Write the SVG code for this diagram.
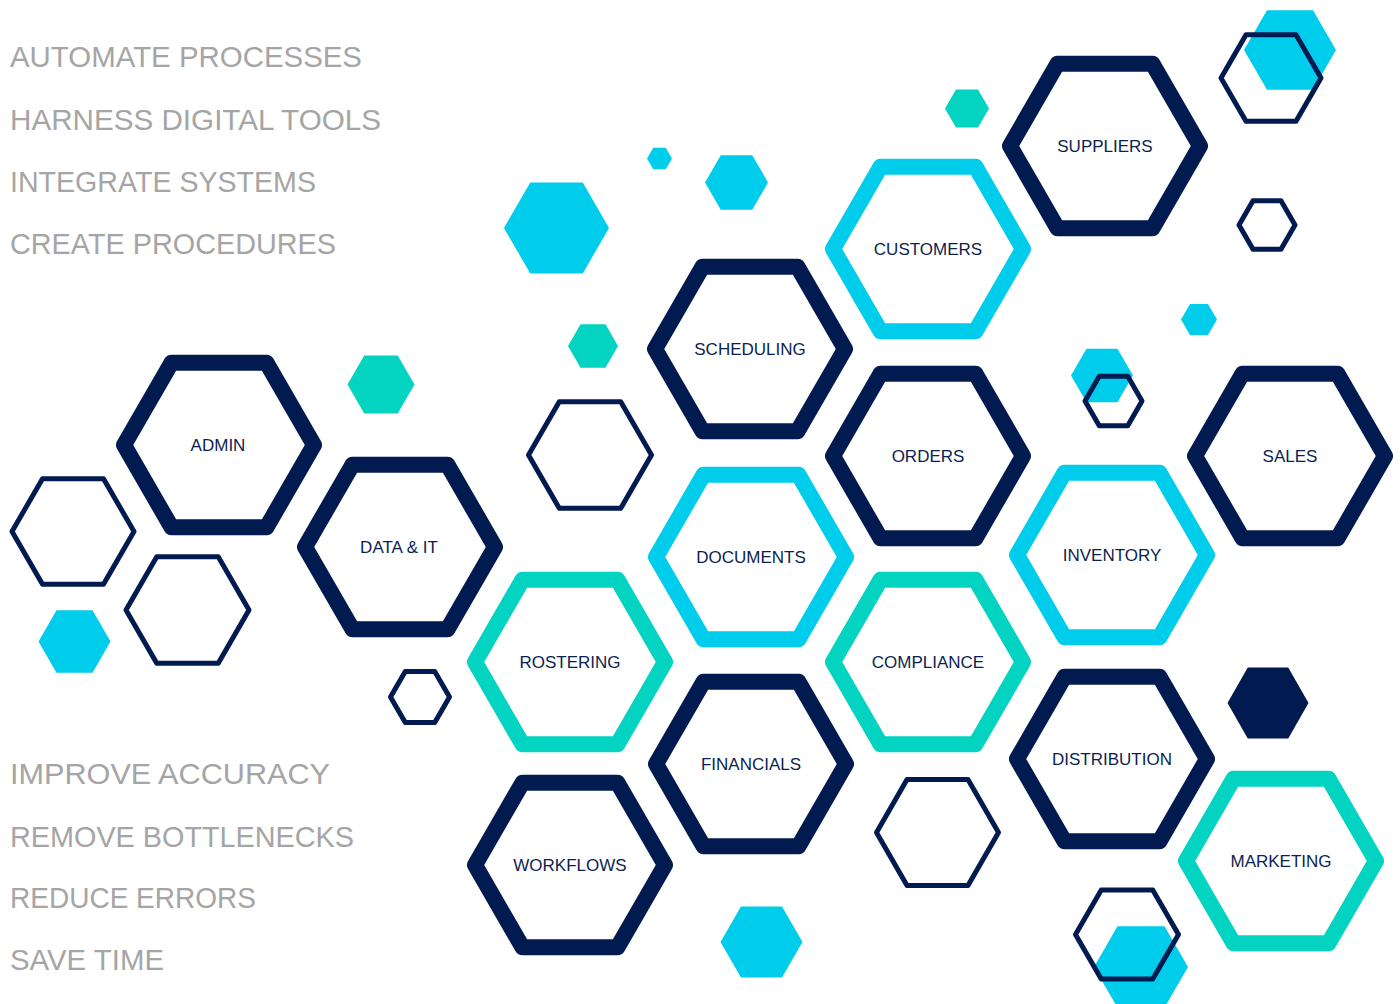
<svg xmlns="http://www.w3.org/2000/svg" xmlns:xlink="http://www.w3.org/1999/xlink" width="1400" height="1004" viewBox="0 0 1400 1004">
<defs>
<style>
.bg{fill:#ffffff}
.big{fill:#ffffff;stroke-width:16;stroke-linejoin:round}
.navy{stroke:#011b50}
.cyan{stroke:#00cdec}
.teal{stroke:#02d4c1}
.thin{fill:none;stroke:#011b50;stroke-width:5;stroke-linejoin:round}
.fc{fill:#00cdec}
.ft{fill:#02d4c1}
.fn{fill:#011b50}
.lbl{font-family:"Liberation Sans",Arial,sans-serif;font-size:17px;fill:#0b1f50;text-anchor:middle}
.side{font-family:"Liberation Sans",Arial,sans-serif;font-size:30px;fill:#a5a5a5}
</style>
<polygon id="hexL" points="-95,0 -47.5,-82.3 47.5,-82.3 95,0 47.5,82.3 -47.5,82.3"/>
</defs>
<rect class="bg" x="0" y="0" width="1400" height="1004"/>

<g id="side-text">
<text class="side" x="10" y="67" textLength="352" lengthAdjust="spacingAndGlyphs">AUTOMATE PROCESSES</text>
<text class="side" x="10" y="130" textLength="371" lengthAdjust="spacingAndGlyphs">HARNESS DIGITAL TOOLS</text>
<text class="side" x="10" y="192" textLength="306" lengthAdjust="spacingAndGlyphs">INTEGRATE SYSTEMS</text>
<text class="side" x="10" y="254" textLength="326" lengthAdjust="spacingAndGlyphs">CREATE PROCEDURES</text>
<text class="side" x="10" y="784" textLength="320" lengthAdjust="spacingAndGlyphs">IMPROVE ACCURACY</text>
<text class="side" x="10" y="847" textLength="344" lengthAdjust="spacingAndGlyphs">REMOVE BOTTLENECKS</text>
<text class="side" x="10" y="908" textLength="246" lengthAdjust="spacingAndGlyphs">REDUCE ERRORS</text>
<text class="side" x="10" y="970" textLength="154" lengthAdjust="spacingAndGlyphs">SAVE TIME</text>
</g>

<g id="decor-filled">
<polygon class="fc" points="1244,50 1267,10.2 1313,10.2 1336,50 1313,89.8 1267,89.8"/>
<polygon class="fc" points="1094,967 1117.5,926.3 1164.5,926.3 1188,967 1164.5,1007.7 1117.5,1007.7"/>
<polygon class="fc" points="504,228 530.25,182.5 582.75,182.5 609,228 582.75,273.5 530.25,273.5"/>
<polygon class="fc" points="705,182.5 720.75,155.2 752.25,155.2 768,182.5 752.25,209.8 720.75,209.8"/>
<polygon class="fc" points="647,158.5 653.25,147.7 665.75,147.7 672,158.5 665.75,169.3 653.25,169.3"/>
<polygon class="ft" points="945,108.5 956,89.45 978,89.45 989,108.5 978,127.55 956,127.55"/>
<polygon class="ft" points="347.5,384.5 364.25,355.5 397.75,355.5 414.5,384.5 397.75,413.5 364.25,413.5"/>
<polygon class="ft" points="568,346 580.5,324.35 605.5,324.35 618,346 605.5,367.65 580.5,367.65"/>
<polygon class="fc" points="1181,319.5 1190,303.9 1208,303.9 1217,319.5 1208,335.1 1190,335.1"/>
<polygon class="fc" points="1071,375.5 1086.5,348.65 1117.5,348.65 1133,375.5 1117.5,402.35 1086.5,402.35"/>
<polygon class="fc" points="38.5,641.5 56.5,610.3 92.5,610.3 110.5,641.5 92.5,672.7 56.5,672.7"/>
<polygon class="fn" points="1227.5,703 1247.75,667.5 1288.25,667.5 1308.5,703 1288.25,738.5 1247.75,738.5"/>
<polygon class="fc" points="720.5,942 741,906.5 782,906.5 802.5,942 782,977.5 741,977.5"/>
</g>

<g id="decor-outlined">
<polygon class="thin" points="1221,78 1246,34.7 1296,34.7 1321,78 1296,121.3 1246,121.3"/>
<polygon class="thin" points="1239,225 1253,200.75 1281,200.75 1295,225 1281,249.25 1253,249.25"/>
<polygon class="thin" points="12,531.5 42.5,478.7 103.5,478.7 134,531.5 103.5,584.3 42.5,584.3"/>
<polygon class="thin" points="126,610 156.75,556.7 218.25,556.7 249,610 218.25,663.3 156.75,663.3"/>
<polygon class="thin" points="528.5,455 559.25,401.7 620.75,401.7 651.5,455 620.75,508.3 559.25,508.3"/>
<polygon class="thin" points="390.5,697 405.25,671.5 434.75,671.5 449.5,697 434.75,722.5 405.25,722.5"/>
<polygon class="thin" points="1085,401 1099.25,376.3 1127.75,376.3 1142,401 1127.75,425.7 1099.25,425.7"/>
<polygon class="thin" points="876.5,832.5 907,779.5 968,779.5 998.5,832.5 968,885.5 907,885.5"/>
<polygon class="thin" points="1075.5,934.5 1101.25,889.9 1152.75,889.9 1178.5,934.5 1152.75,979.1 1101.25,979.1"/>
</g>

<g id="nodes">
<g id="node-suppliers"><use xlink:href="#hexL" href="#hexL" class="big navy" transform="translate(1105,146)"/><text class="lbl" x="1105" y="152">SUPPLIERS</text></g>
<g id="node-customers"><use xlink:href="#hexL" href="#hexL" class="big cyan" transform="translate(928,249)"/><text class="lbl" x="928" y="255">CUSTOMERS</text></g>
<g id="node-scheduling"><use xlink:href="#hexL" href="#hexL" class="big navy" transform="translate(750,349)"/><text class="lbl" x="750" y="355">SCHEDULING</text></g>
<g id="node-orders"><use xlink:href="#hexL" href="#hexL" class="big navy" transform="translate(928,456)"/><text class="lbl" x="928" y="462">ORDERS</text></g>
<g id="node-sales"><use xlink:href="#hexL" href="#hexL" class="big navy" transform="translate(1290,456)"/><text class="lbl" x="1290" y="462">SALES</text></g>
<g id="node-admin"><use xlink:href="#hexL" href="#hexL" class="big navy" transform="translate(219,445)"/><text class="lbl" x="218" y="451">ADMIN</text></g>
<g id="node-data-it"><use xlink:href="#hexL" href="#hexL" class="big navy" transform="translate(400,547)"/><text class="lbl" x="399" y="553">DATA &amp; IT</text></g>
<g id="node-documents"><use xlink:href="#hexL" href="#hexL" class="big cyan" transform="translate(751,557)"/><text class="lbl" x="751" y="563">DOCUMENTS</text></g>
<g id="node-inventory"><use xlink:href="#hexL" href="#hexL" class="big cyan" transform="translate(1112,555)"/><text class="lbl" x="1112" y="561">INVENTORY</text></g>
<g id="node-rostering"><use xlink:href="#hexL" href="#hexL" class="big teal" transform="translate(570,662)"/><text class="lbl" x="570" y="668">ROSTERING</text></g>
<g id="node-compliance"><use xlink:href="#hexL" href="#hexL" class="big teal" transform="translate(928,662)"/><text class="lbl" x="928" y="668">COMPLIANCE</text></g>
<g id="node-financials"><use xlink:href="#hexL" href="#hexL" class="big navy" transform="translate(751,764)"/><text class="lbl" x="751" y="770">FINANCIALS</text></g>
<g id="node-distribution"><use xlink:href="#hexL" href="#hexL" class="big navy" transform="translate(1112,759)"/><text class="lbl" x="1112" y="765">DISTRIBUTION</text></g>
<g id="node-workflows"><use xlink:href="#hexL" href="#hexL" class="big navy" transform="translate(570,865)"/><text class="lbl" x="570" y="871">WORKFLOWS</text></g>
<g id="node-marketing"><use xlink:href="#hexL" href="#hexL" class="big teal" transform="translate(1281,861)"/><text class="lbl" x="1281" y="867">MARKETING</text></g>
</g>

<g id="connectors"></g>
</svg>
